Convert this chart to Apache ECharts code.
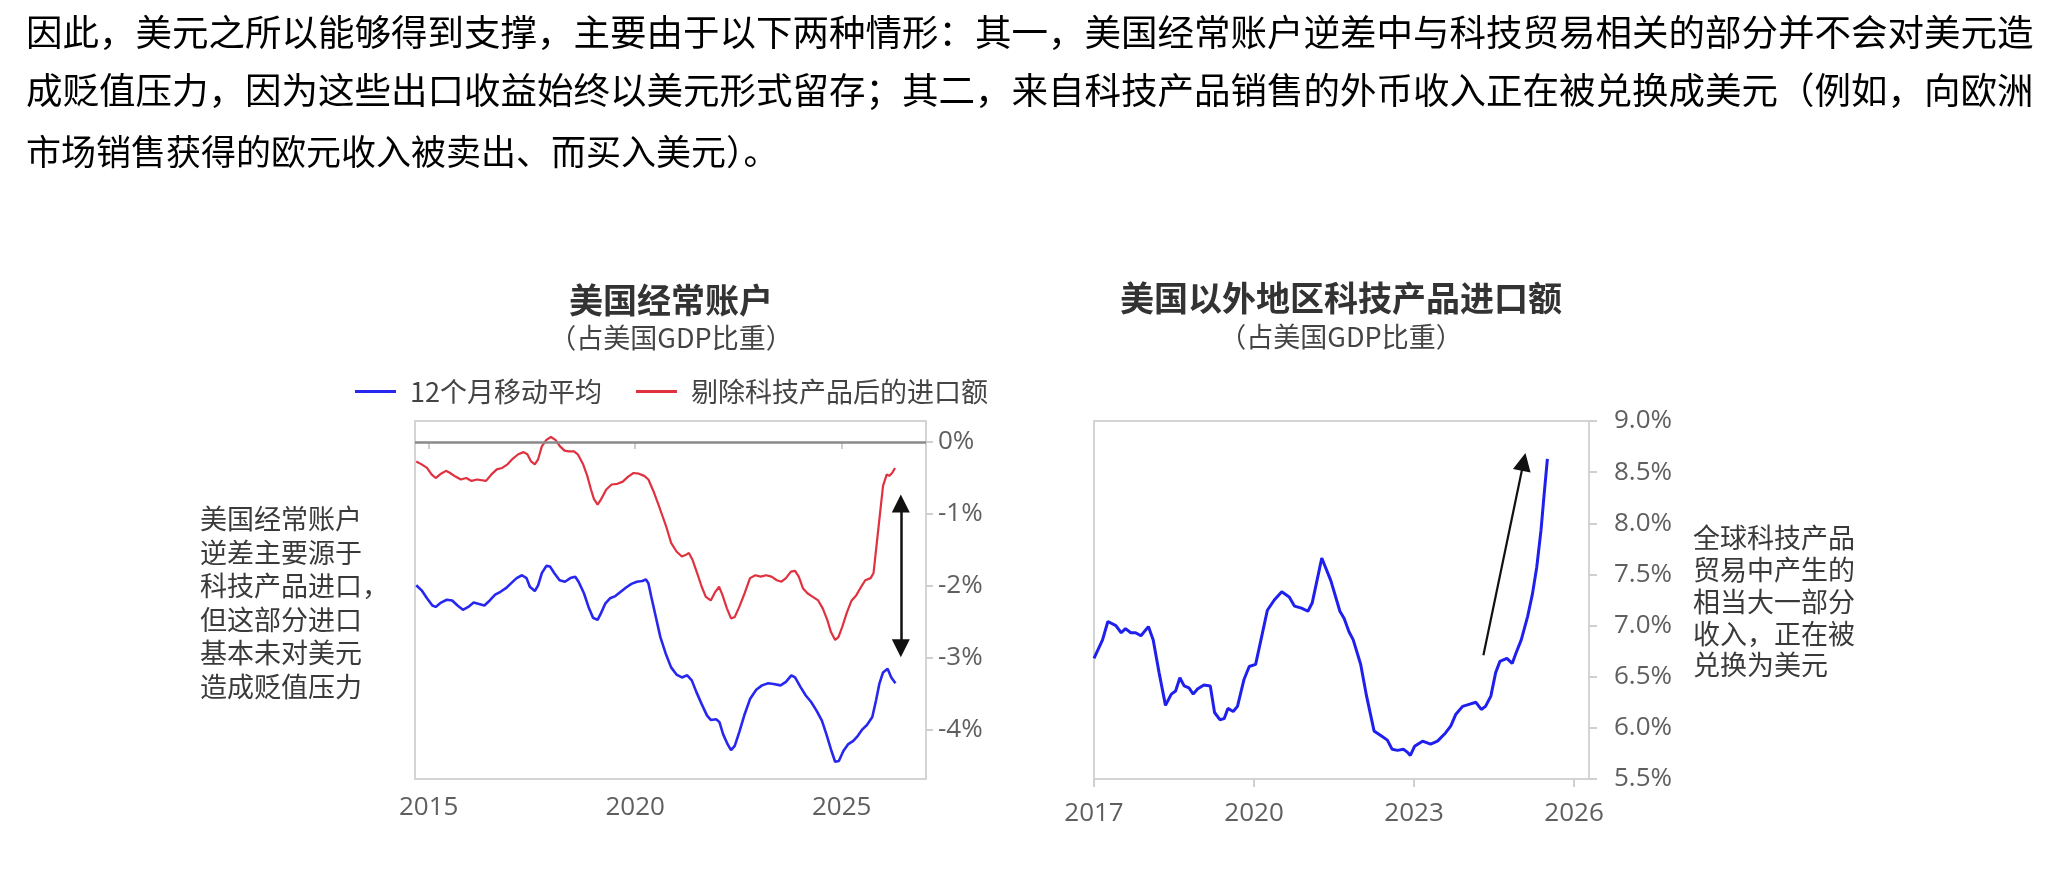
<!DOCTYPE html>
<html>
<head>
<meta charset="UTF-8">
<title>美国经常账户与科技产品进口</title>
<script src="https://cdn.jsdelivr.net/npm/echarts@6/dist/echarts.min.js"></script>
<style>
  html, body { margin: 0; padding: 0; background: #fff; }
  #main { width: 2066px; height: 872px; }
</style>
</head>
<body>
<div id="main"></div>
<script>
  // 正文段落（每行单独排版）
  var paragraph = [
    '因此，美元之所以能够得到支撑，主要由于以下两种情形：其一，美国经常账户逆差中与科技贸易相关的部分并不会对美元造',
    '成贬值压力，因为这些出口收益始终以美元形式留存；其二，来自科技产品销售的外币收入正在被兑换成美元（例如，向欧洲',
    '市场销售获得的欧元收入被卖出、而买入美元）。'
  ];
  var paragraphSize = [36.5, 36.5, 35];

  var leftTitle = '美国经常账户';
  var rightTitle = '美国以外地区科技产品进口额';
  var subTitle = '（占美国GDP比重）';
  var seriesNames = ['12个月移动平均', '剔除科技产品后的进口额', '科技产品进口额'];

  var leftNote = ['美国经常账户', '逆差主要源于', '科技产品进口，', '但这部分进口', '基本未对美元', '造成贬值压力'];
  var rightNote = ['全球科技产品', '贸易中产生的', '相当大一部分', '收入，正在被', '兑换为美元'];

  var leftTicksX = [2015, 2020, 2025];
  var leftTicksY = [0, -1, -2, -3, -4];
  var rightTicksX = [2017, 2020, 2023, 2026];

  // 经常账户 12个月移动平均（年份, % GDP）
  var maData = [
    [2014.70, -1.99], [2014.83, -2.06], [2014.96, -2.17], [2015.09, -2.27], [2015.17, -2.29],
    [2015.30, -2.23], [2015.44, -2.19], [2015.57, -2.20], [2015.70, -2.27], [2015.83, -2.33],
    [2015.96, -2.29], [2016.09, -2.23], [2016.22, -2.25], [2016.35, -2.27], [2016.48, -2.20],
    [2016.61, -2.12], [2016.74, -2.08], [2016.87, -2.03], [2017.00, -1.96], [2017.13, -1.89],
    [2017.26, -1.85], [2017.37, -1.89], [2017.45, -2.01], [2017.57, -2.07], [2017.65, -1.99],
    [2017.74, -1.82], [2017.85, -1.72], [2017.94, -1.73], [2018.04, -1.82], [2018.17, -1.92],
    [2018.30, -1.94], [2018.43, -1.89], [2018.55, -1.87], [2018.63, -1.94], [2018.76, -2.10],
    [2018.87, -2.29], [2018.98, -2.44], [2019.09, -2.47], [2019.17, -2.38], [2019.28, -2.24],
    [2019.39, -2.17], [2019.52, -2.14], [2019.65, -2.08], [2019.78, -2.02], [2019.91, -1.97],
    [2020.04, -1.94], [2020.17, -1.93], [2020.26, -1.91], [2020.32, -1.96], [2020.39, -2.15],
    [2020.50, -2.43], [2020.61, -2.71], [2020.74, -2.94], [2020.87, -3.13], [2021.00, -3.23],
    [2021.13, -3.27], [2021.26, -3.24], [2021.37, -3.31], [2021.48, -3.47], [2021.61, -3.64],
    [2021.74, -3.80], [2021.83, -3.86], [2021.96, -3.85], [2022.04, -3.89], [2022.13, -4.06],
    [2022.24, -4.20], [2022.32, -4.28], [2022.41, -4.22], [2022.52, -4.03], [2022.65, -3.78],
    [2022.78, -3.57], [2022.93, -3.44], [2023.07, -3.38], [2023.22, -3.35], [2023.35, -3.36],
    [2023.52, -3.38], [2023.65, -3.33], [2023.78, -3.24], [2023.87, -3.27], [2024.00, -3.40],
    [2024.13, -3.52], [2024.26, -3.61], [2024.39, -3.73], [2024.52, -3.87], [2024.63, -4.06],
    [2024.74, -4.27], [2024.84, -4.44], [2024.93, -4.43], [2025.04, -4.29], [2025.15, -4.20],
    [2025.28, -4.15], [2025.39, -4.08], [2025.50, -3.99], [2025.61, -3.93], [2025.74, -3.82],
    [2025.83, -3.59], [2025.91, -3.36], [2026.00, -3.20], [2026.11, -3.15], [2026.20, -3.27],
    [2026.30, -3.35]
  ];

  // 剔除科技产品后的进口额
  var exTechData = [
    [2014.70, -0.27], [2014.83, -0.31], [2014.96, -0.36], [2015.07, -0.45], [2015.17, -0.50],
    [2015.30, -0.44], [2015.42, -0.40], [2015.52, -0.43], [2015.65, -0.48], [2015.78, -0.52],
    [2015.91, -0.50], [2016.04, -0.54], [2016.17, -0.52], [2016.39, -0.54], [2016.52, -0.45],
    [2016.65, -0.38], [2016.78, -0.36], [2016.91, -0.31], [2017.04, -0.23], [2017.17, -0.17],
    [2017.30, -0.14], [2017.39, -0.17], [2017.48, -0.27], [2017.57, -0.31], [2017.65, -0.24],
    [2017.74, -0.06], [2017.85, 0.03], [2017.96, 0.07], [2018.07, 0.03], [2018.18, -0.06],
    [2018.29, -0.12], [2018.39, -0.13], [2018.52, -0.13], [2018.61, -0.17], [2018.74, -0.31],
    [2018.84, -0.47], [2018.93, -0.66], [2019.00, -0.79], [2019.09, -0.87], [2019.17, -0.80],
    [2019.30, -0.66], [2019.43, -0.59], [2019.57, -0.58], [2019.70, -0.55], [2019.83, -0.48],
    [2019.96, -0.43], [2020.09, -0.44], [2020.22, -0.47], [2020.32, -0.52], [2020.44, -0.68],
    [2020.55, -0.85], [2020.65, -1.01], [2020.76, -1.19], [2020.87, -1.40], [2021.00, -1.52],
    [2021.13, -1.59], [2021.22, -1.57], [2021.30, -1.54], [2021.39, -1.64], [2021.50, -1.82],
    [2021.61, -2.01], [2021.71, -2.15], [2021.83, -2.20], [2021.94, -2.08], [2022.03, -2.01],
    [2022.11, -2.12], [2022.22, -2.31], [2022.32, -2.45], [2022.41, -2.43], [2022.52, -2.29],
    [2022.65, -2.10], [2022.78, -1.89], [2022.91, -1.85], [2023.04, -1.87], [2023.17, -1.85],
    [2023.30, -1.87], [2023.43, -1.92], [2023.54, -1.94], [2023.65, -1.89], [2023.77, -1.80],
    [2023.87, -1.79], [2023.96, -1.87], [2024.06, -2.03], [2024.17, -2.10], [2024.30, -2.15],
    [2024.43, -2.20], [2024.54, -2.31], [2024.65, -2.47], [2024.74, -2.64], [2024.84, -2.75],
    [2024.92, -2.71], [2025.01, -2.57], [2025.13, -2.36], [2025.24, -2.20], [2025.35, -2.13],
    [2025.45, -2.03], [2025.57, -1.92], [2025.70, -1.89], [2025.77, -1.82], [2025.83, -1.50],
    [2025.92, -1.03], [2026.00, -0.61], [2026.09, -0.45], [2026.15, -0.47], [2026.22, -0.43],
    [2026.29, -0.36]
  ];

  // 美国以外地区科技产品进口额
  var techImportData = [
    [2017.00, 6.68], [2017.16, 6.86], [2017.26, 7.04], [2017.41, 7.00], [2017.51, 6.93],
    [2017.59, 6.97], [2017.69, 6.93], [2017.78, 6.93], [2017.88, 6.90], [2018.02, 6.99],
    [2018.11, 6.86], [2018.22, 6.54], [2018.34, 6.22], [2018.45, 6.33], [2018.53, 6.36],
    [2018.61, 6.49], [2018.69, 6.41], [2018.78, 6.39], [2018.86, 6.33], [2018.94, 6.38],
    [2019.06, 6.42], [2019.18, 6.41], [2019.26, 6.15], [2019.36, 6.08], [2019.44, 6.09],
    [2019.51, 6.19], [2019.61, 6.16], [2019.69, 6.21], [2019.81, 6.47], [2019.91, 6.60],
    [2020.03, 6.62], [2020.13, 6.86], [2020.25, 7.15], [2020.38, 7.25], [2020.52, 7.33],
    [2020.66, 7.28], [2020.76, 7.19], [2020.89, 7.17], [2021.01, 7.14], [2021.09, 7.22],
    [2021.27, 7.66], [2021.44, 7.44], [2021.61, 7.14], [2021.69, 7.07], [2021.78, 6.94],
    [2021.86, 6.86], [2022.00, 6.62], [2022.11, 6.31], [2022.25, 5.97], [2022.39, 5.92],
    [2022.50, 5.88], [2022.59, 5.79], [2022.69, 5.78], [2022.80, 5.79], [2022.88, 5.76],
    [2022.93, 5.73], [2023.01, 5.82], [2023.16, 5.87], [2023.31, 5.84], [2023.44, 5.87],
    [2023.59, 5.95], [2023.69, 6.02], [2023.78, 6.13], [2023.91, 6.21], [2024.03, 6.23],
    [2024.16, 6.25], [2024.26, 6.18], [2024.34, 6.21], [2024.44, 6.31], [2024.53, 6.54],
    [2024.61, 6.65], [2024.74, 6.68], [2024.84, 6.63], [2024.91, 6.73], [2025.01, 6.86],
    [2025.13, 7.09], [2025.22, 7.31], [2025.30, 7.57], [2025.38, 7.93], [2025.44, 8.29],
    [2025.50, 8.63]
  ];

  // 图中箭头（数据坐标）
  var leftArrow = [[2026.43, -0.855], [2026.43, -2.865]];
  var rightArrow = [[2024.30, 6.71], [2025.054, 8.60]];

  var cjk = '"Noto Sans CJK SC", sans-serif';
  var latin = '"Open Sans", "Noto Sans CJK SC", sans-serif';
  var tickColor = '#cfcfcf';
  var labelColor = '#5f5f5f';

  var myChart = echarts.init(document.getElementById('main'));

  var graphics = [];
  for (var i = 0; i < paragraph.length; i++) {
    graphics.push({
      type: 'text', left: 26, top: [14, 72, 134][i],
      style: { text: paragraph[i], fill: '#000', font: paragraphSize[i] + 'px ' + cjk }
    });
  }
  graphics.push(
    { type: 'text', x: 671, y: 300, style: { text: leftTitle, fill: '#333', font: 'bold 34px ' + cjk, align: 'center', verticalAlign: 'middle' } },
    { type: 'text', x: 671, y: 338, style: { text: subTitle, fill: '#444', font: '27px ' + cjk, align: 'center', verticalAlign: 'middle' } },
    { type: 'text', x: 1341, y: 298, style: { text: rightTitle, fill: '#333', font: 'bold 34px ' + cjk, align: 'center', verticalAlign: 'middle' } },
    { type: 'text', x: 1341, y: 337, style: { text: subTitle, fill: '#444', font: '27px ' + cjk, align: 'center', verticalAlign: 'middle' } },
    { type: 'text', x: 200, y: 502, style: { text: leftNote.join('\n'), fill: '#3a3a3a', font: '27px ' + cjk, lineHeight: 33.5 } },
    { type: 'text', x: 1693, y: 522, style: { text: rightNote.join('\n'), fill: '#3a3a3a', font: '27px ' + cjk, lineHeight: 31.8 } }
  );

  var yearLabel = function (v) { return String(Math.round(v)); };

  var option = {
    animation: false,
    backgroundColor: '#fff',
    legend: {
      left: 350, top: 373,
      data: [seriesNames[0], seriesNames[1]],
      icon: 'rect', itemWidth: 41, itemHeight: 3, itemGap: 34,
      textStyle: { fontSize: 27, color: '#444', fontFamily: cjk, padding: [0, 0, 0, 9] }
    },
    grid: [
      { left: 415, top: 421, width: 511, height: 358, show: true, borderColor: '#d4d4d4', borderWidth: 2, containLabel: false, outerBoundsMode: 'none' },
      { left: 1094, top: 421, width: 495, height: 358, show: true, borderColor: '#d4d4d4', borderWidth: 2, containLabel: false, outerBoundsMode: 'none' }
    ],
    xAxis: [
      {
        gridIndex: 0, type: 'value', min: 2014.67, max: 2027.04,
        axisLine: { show: false }, splitLine: { show: false },
        axisTick: { show: true, length: 7, customValues: leftTicksX, lineStyle: { color: tickColor, width: 2 } },
        axisLabel: { customValues: leftTicksX, margin: 16, fontSize: 26, color: labelColor, fontFamily: latin, formatter: yearLabel }
      },
      {
        gridIndex: 1, type: 'value', min: 2017, max: 2026.28,
        axisLine: { show: false }, splitLine: { show: false },
        axisTick: { show: true, length: 8, customValues: rightTicksX, lineStyle: { color: tickColor, width: 2 } },
        axisLabel: { customValues: rightTicksX, margin: 22, fontSize: 26, color: labelColor, fontFamily: latin, formatter: yearLabel }
      }
    ],
    yAxis: [
      {
        gridIndex: 0, type: 'value', position: 'right', min: -4.68, max: 0.292,
        axisLine: { show: false }, splitLine: { show: false },
        axisTick: { show: true, length: 7, customValues: leftTicksY, lineStyle: { color: tickColor, width: 2 } },
        axisLabel: { customValues: leftTicksY, margin: 12, fontSize: 26, color: labelColor, fontFamily: latin,
          formatter: function (v) { return v + '%'; } }
      },
      {
        gridIndex: 1, type: 'value', position: 'right', min: 5.5, max: 9.0, interval: 0.5,
        axisLine: { show: false }, splitLine: { show: false },
        axisTick: { show: true, length: 8, lineStyle: { color: tickColor, width: 2 } },
        axisLabel: { margin: 25, fontSize: 26, color: labelColor, fontFamily: latin,
          formatter: function (v) { return v.toFixed(1) + '%'; } }
      }
    ],
    series: [
      {
        name: seriesNames[0], type: 'line', xAxisIndex: 0, yAxisIndex: 0,
        data: maData, showSymbol: false, symbol: 'none', color: '#2727ef',
        lineStyle: { width: 2.6, color: '#2727ef' },
        markLine: {
          silent: true, symbol: 'none', label: { show: false },
          lineStyle: { color: '#8a8a8a', width: 2.5, type: 'solid' },
          data: [{ yAxis: 0 }]
        }
      },
      {
        name: seriesNames[1], type: 'line', xAxisIndex: 0, yAxisIndex: 0,
        data: exTechData, showSymbol: false, symbol: 'none', color: '#e0313f',
        lineStyle: { width: 2.2, color: '#e0313f' },
        markLine: {
          silent: true, symbol: ['triangle', 'triangle'], symbolSize: [18, 18], label: { show: false },
          lineStyle: { color: '#111', width: 2.5, type: 'solid' },
          data: [[{ coord: leftArrow[0] }, { coord: leftArrow[1] }]]
        }
      },
      {
        name: seriesNames[2], type: 'line', xAxisIndex: 1, yAxisIndex: 1,
        data: techImportData, showSymbol: false, symbol: 'none', color: '#1f1fee',
        lineStyle: { width: 3, color: '#1f1fee' },
        markLine: {
          silent: true, symbol: ['none', 'triangle'], symbolSize: [18, 18], label: { show: false },
          lineStyle: { color: '#111', width: 2.2, type: 'solid' },
          data: [[{ coord: rightArrow[0] }, { coord: rightArrow[1] }]]
        }
      }
    ],
    graphic: graphics
  };

  myChart.setOption(option);
</script>
</body>
</html>
